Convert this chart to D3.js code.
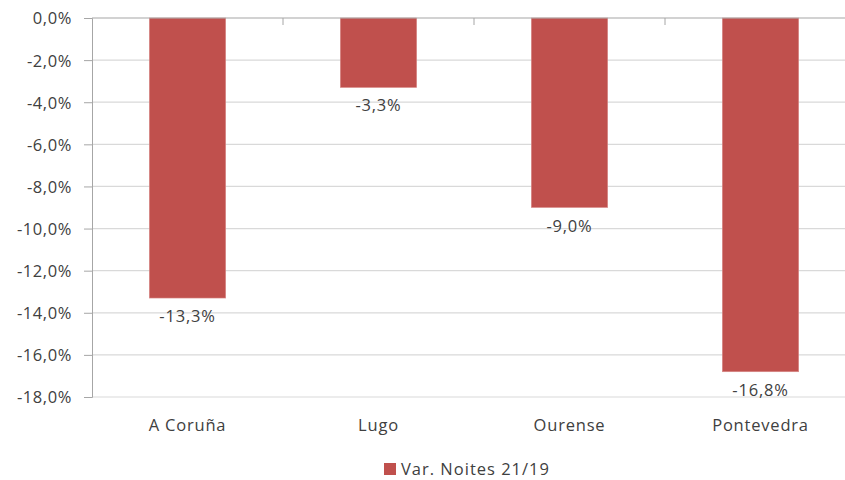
<!DOCTYPE html>
<html>
<head>
<meta charset="utf-8">
<script src="https://cdn.jsdelivr.net/npm/d3@7"></script>
<style>
  body { margin: 0; background: #fff; }
  svg text { font-family: "Open Sans", "Liberation Sans", sans-serif; fill: #404040; }
</style>
</head>
<body>
<div id="chart"></div>
<script>
const provinces = ['A Coruña', 'Lugo', 'Ourense', 'Pontevedra'];
const varNoites = [-13.3, -3.3, -9.0, -16.8];
const yTicks = [0, -2, -4, -6, -8, -10, -12, -14, -16, -18];
const seriesName = 'Var. Noites 21/19';

const W = 845, H = 480;
const m = { top: 18, left: 92 };
const plotW = 764, plotH = 379;
const barColor = '#C0504D';
const fmt = v => d3.format('.1f')(v).replace('.', ',').replace('−', '-') + '%';

const svg = d3.select('#chart').append('svg')
  .attr('width', W)
  .attr('height', H);

const x = d3.scaleBand().domain(provinces).range([m.left, m.left + plotW]).paddingInner(0.6).paddingOuter(0.3);
const y = d3.scaleLinear().domain([0, -18]).range([m.top, m.top + plotH]);

// gridlines
svg.append('g')
  .selectAll('line')
  .data(yTicks.slice(1))
  .join('line')
  .attr('x1', m.left).attr('x2', m.left + plotW)
  .attr('y1', d => y(d)).attr('y2', d => y(d))
  .attr('stroke', '#d9d9d9')
  .attr('stroke-width', 1.2);

// y axis
const yAxis = svg.append('g')
  .attr('transform', `translate(${m.left},0)`)
  .call(d3.axisLeft(y).tickValues(yTicks).tickFormat(fmt).tickSize(8).tickPadding(12));
yAxis.select('.domain').attr('stroke', '#a6a6a6');
yAxis.selectAll('.tick line').attr('stroke', '#a6a6a6');
yAxis.selectAll('text').attr('font-size', 16.5).attr('fill', '#404040').attr('dy', '0.36em')
  .attr('letter-spacing', 0.6)
  .style('font-family', '"Open Sans", "Liberation Sans", sans-serif');

// bars
svg.append('g')
  .selectAll('rect')
  .data(varNoites)
  .join('rect')
  .attr('x', (d, i) => x(provinces[i]))
  .attr('width', x.bandwidth())
  .attr('y', y(0))
  .attr('height', d => y(d) - y(0))
  .attr('fill', barColor)
  .attr('stroke', '#d98b89')
  .attr('stroke-width', 0.6);

// category axis along zero line
const step = x.step();
const bounds = d3.range(provinces.length + 1).map(i => m.left + i * step);
svg.append('line')
  .attr('x1', m.left).attr('x2', m.left + plotW)
  .attr('y1', y(0)).attr('y2', y(0))
  .attr('stroke', '#a6a6a6').attr('stroke-width', 1.2);
svg.append('g')
  .selectAll('line')
  .data(bounds.slice(1))
  .join('line')
  .attr('x1', d => d).attr('x2', d => d)
  .attr('y1', y(0)).attr('y2', y(0) + 7)
  .attr('stroke', '#a6a6a6');

// category labels
svg.append('g')
  .selectAll('text')
  .data(provinces)
  .join('text')
  .attr('x', d => x(d) + x.bandwidth() / 2)
  .attr('y', 431)
  .attr('text-anchor', 'middle')
  .attr('font-size', 16.5)
  .attr('letter-spacing', 0.8)
  .text(d => d);

// value labels
svg.append('g')
  .selectAll('text')
  .data(varNoites)
  .join('text')
  .attr('x', (d, i) => x(provinces[i]) + x.bandwidth() / 2)
  .attr('y', d => y(d) + 24)
  .attr('text-anchor', 'middle')
  .attr('font-size', 16.5)
  .attr('letter-spacing', 0.8)
  .text(d => fmt(d));

// legend
const lg = svg.append('g').attr('transform', 'translate(384,463)');
lg.append('rect').attr('width', 12).attr('height', 12).attr('fill', barColor);
lg.append('text').attr('x', 17).attr('y', 11.5).attr('font-size', 16.5).attr('letter-spacing', 1)
  .text(seriesName);
</script>
</body>
</html>
